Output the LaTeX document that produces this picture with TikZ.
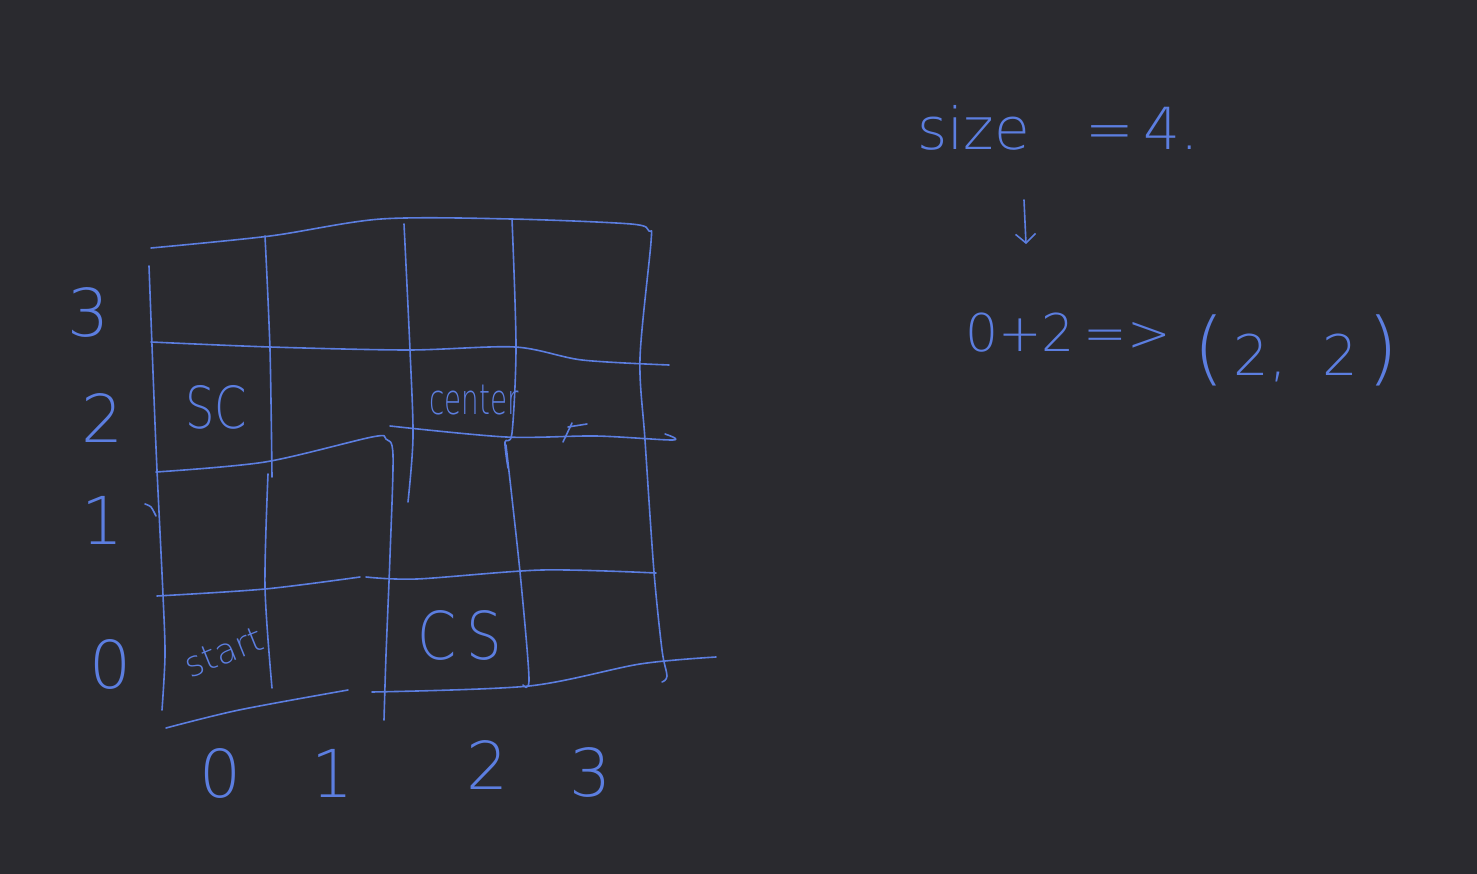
\documentclass[tikz,border=0pt]{standalone}
\usepackage{fontspec}
\setmainfont{DejaVu Sans}[UprightFont=* ExtraLight]
\usetikzlibrary{arrows.meta}
\definecolor{board}{RGB}{42,42,47}
\definecolor{ink}{RGB}{92,126,224}
\newcommand{\hw}[1]{\fontsize{#1}{#1}\selectfont}

\begin{document}
\begin{tikzpicture}[x=1pt, y=-1pt, >={Straight Barb[length=9pt, width=20pt]},
  pen/.style={draw=ink, line width=1.6pt, line cap=round, line join=round},
  hand/.style={text=ink, inner sep=0pt, transform shape}]
  \fill[board] (0,0) rectangle (1477,874);
  \useasboundingbox (0,0) rectangle (1477,874);

  % outer border, top and right
  \draw[pen] plot[smooth] coordinates {(151,248) (270,236) (381,219) (511,219) (631,224) (649,231) (651,242) (640,358) (645,440) (654,572) (662,650) (667,676) (662,682)};

  % row lines
  \draw[pen] plot[smooth] coordinates {(151,342) (270,347) (408,350) (515,347) (582,360) (669,365)};
  \draw[pen] plot[smooth] coordinates {(156,472) (265,462) (372,437) (386,439) (393,455) (390,556) (386,655) (384,720)};
  \draw[pen] plot[smooth] coordinates {(390,426) (506,437) (596,436) (673,440) (665,434)};
  \draw[pen] plot[smooth] coordinates {(157,596) (265,589) (360,577)};
  \draw[pen] plot[smooth] coordinates {(366,577) (417,579) (542,570) (656,573)};
  \draw[pen] plot[smooth] coordinates {(166,728) (239,710) (348,690)};
  \draw[pen] plot[smooth] coordinates {(372,692) (529,686) (640,664) (716,657)};

  % column lines
  \draw[pen] plot[smooth] coordinates {(149,266) (154,398) (157,470) (163,595) (165,655) (162,710)};
  \draw[pen] plot[smooth] coordinates {(265,236) (270,350) (272,477)};
  \draw[pen] plot[smooth] coordinates {(268,474) (265,587) (272,688)};
  \draw[pen] plot[smooth] coordinates {(404,224) (410,350) (413,437) (408,502)};
  \draw[pen] plot[smooth] coordinates {(512,219) (516,346) (512,433) (505,442) (508,468)};
  \draw[pen] plot[smooth] coordinates {(506,445) (520,572) (529,678) (523,685)};

  % stray marks
  \draw[pen] plot[smooth] coordinates {(145,504) (151,507) (156,516)};
  \draw[pen] (563,442) -- (572,423);
  \draw[pen] (568,427) -- (587,424);

  % axis numbers
  \foreach \lab/\px/\py in {3/88/312, 2/102/418, 1/102/520, 0/110/664}
    \node[hand, font=\hw{66}] (row\lab) at (\px,\py) {\lab};
  \foreach \lab/\px/\py in {0/220/773, 1/332/773, 2/487/765, 3/590/772}
    \node[hand, font=\hw{66}] (col\lab) at (\px,\py) {\lab};

  % cell labels
  \node[hand, font=\hw{58}, xscale=0.8] (sc) at (216,407) {SC};
  \node[hand, font=\hw{42}, xscale=0.66] (center) at (474,400) {center};
  \node[hand, font=\hw{35}, rotate=22] (start) at (224,652) {start};
  \node[hand, font=\hw{66}, xscale=0.85] (cs) at (460,635) {C\,S};

  % notes on the right
  \node[hand, font=\hw{58}] (size) at (1058,128) {size\ \ \ =\,4.};
  \coordinate (down1) at (1024,200);
  \coordinate (down2) at (1026,244);
  \draw[pen, ->] (down1) -- (down2);
  \node[hand, font=\hw{52}] (calc) at (1068,333) {0+2\,=>};
  \node[hand, font=\hw{56}] (pair) at (1296,350) {{\hw{80}(}\,2,\ \ 2\,{\hw{80})}};
\end{tikzpicture}
\end{document}
